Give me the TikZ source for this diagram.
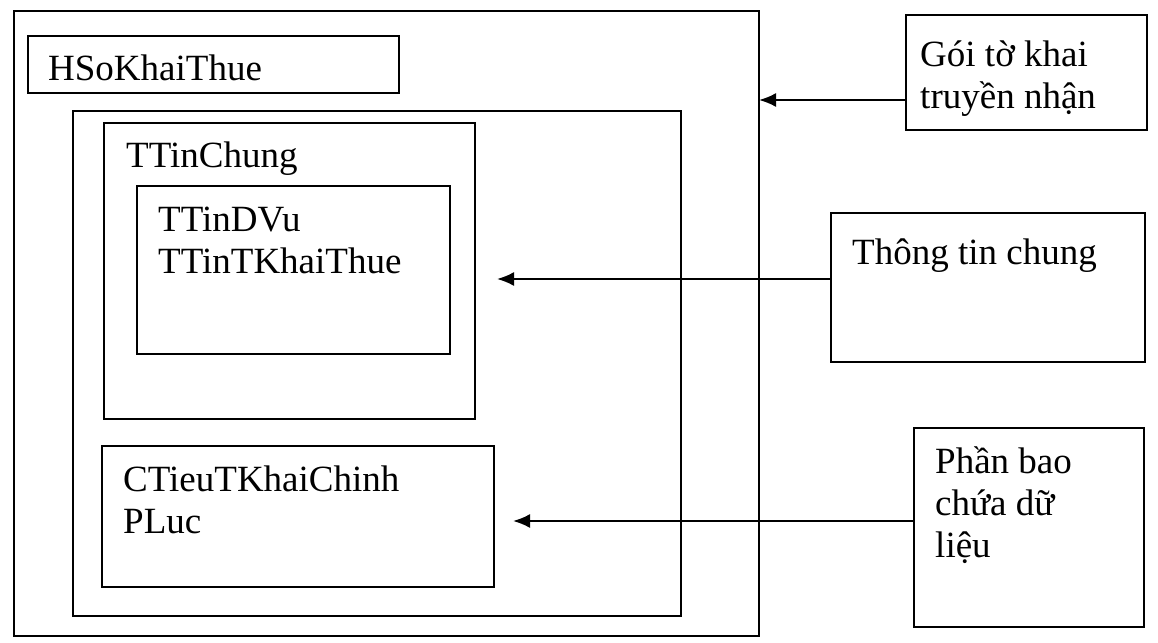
\documentclass[tikz,border=0pt]{standalone}
\usepackage{fontspec}
\setmainfont{Liberation Serif}
\usetikzlibrary{arrows.meta}
\tikzset{
    box/.style={draw, line width=2pt, inner sep=0pt, outer sep=0pt, anchor=north west},
    txt/.style={font=\fontsize{37}{42}\selectfont, align=left, anchor=base west, inner sep=0pt},
    link/.style={->, line width=2pt}
}

\begin{document}
\begin{tikzpicture}[x=1pt, y=-1pt, >={Latex[length=17pt, width=14pt]}]
	\useasboundingbox (0,0) rectangle (1158,642);
	% left part: nested boxes
	\node(Outer)[box, minimum width=745pt, minimum height=625pt] at (14,11){};
	\node(HSo)[box, minimum width=371pt, minimum height=57pt] at (28,36){};
	\node(Middle)[box, minimum width=608pt, minimum height=505pt] at (73,111){};
	\node(TChung)[box, minimum width=371pt, minimum height=296pt] at (104,123){};
	\node(TDVu)[box, minimum width=313pt, minimum height=168pt] at (137,186){};
	\node(CTieu)[box, minimum width=392pt, minimum height=141pt] at (102,446){};
	\node[txt] at ([shift={(20,45)}]HSo.north west){HSoKhaiThue};
	\node[txt] at ([shift={(22,44)}]TChung.north west){TTinChung};
	\node[txt] at ([shift={(21,87)}]TDVu.north west){TTinDVu\\TTinTKhaiThue};
	\node[txt] at ([shift={(21,87)}]CTieu.north west){CTieuTKhaiChinh\\PLuc};
	% right part: labels
	\node(Goi)[box, minimum width=241pt, minimum height=115pt] at (906,15){};
	\node(TTC)[box, minimum width=314pt, minimum height=149pt] at (831,213){};
	\node(PhanBao)[box, minimum width=230pt, minimum height=199pt] at (914,428){};
	\node[txt] at ([shift={(14,93)}]Goi.north west){Gói tờ khai\\truyền nhận};
	\node[txt] at ([shift={(21,51)}]TTC.north west){Thông tin chung};
	\node[txt] at ([shift={(21,129)}]PhanBao.north west){Phần bao\\chứa dữ\\liệu};
	% arrows
	\coordinate(inA) at (759,100);
	\coordinate(inB) at (497,279);
	\coordinate(inC) at (513,521);
	\draw[link](Goi.west |- inA)--(inA);
	\draw[link](TTC.west |- inB)--(inB);
	\draw[link](PhanBao.west |- inC)--(inC);
\end{tikzpicture}
\end{document}
